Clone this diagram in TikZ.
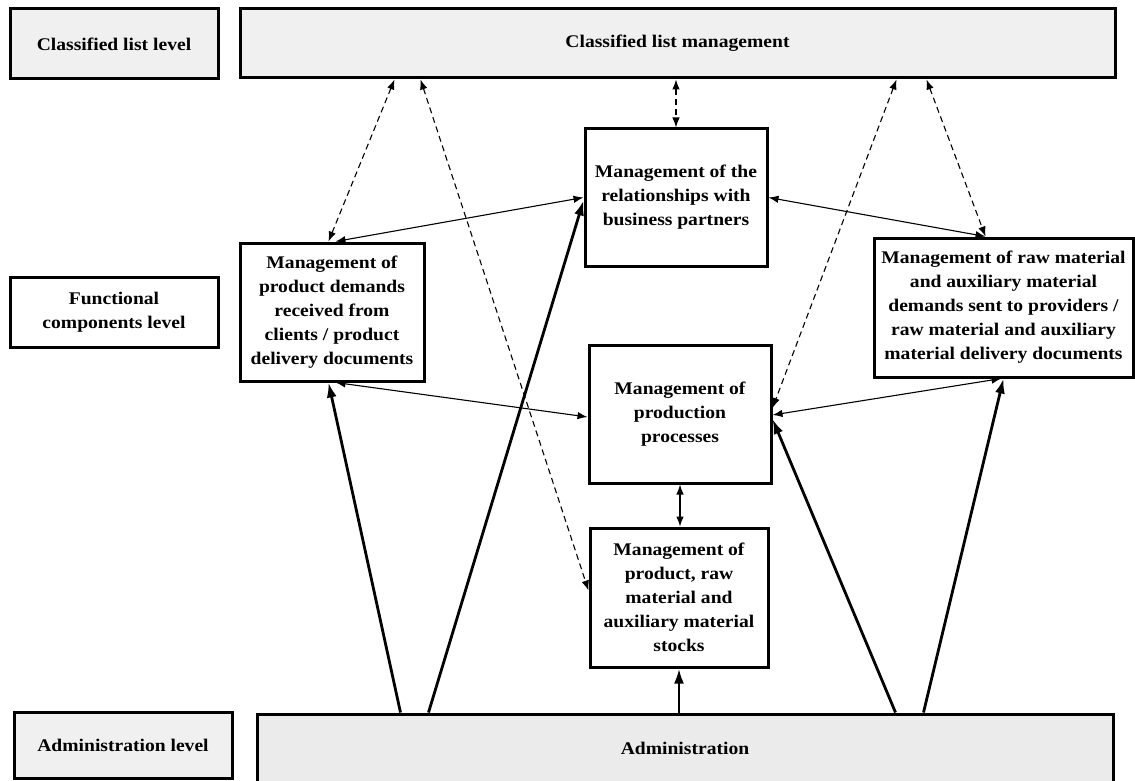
\documentclass[tikz,border=0pt]{standalone}
\usepackage{fontspec}
\setmainfont{Liberation Serif}[FakeStretch=1.1]
\usetikzlibrary{arrows.meta}
\definecolor{lightbar}{RGB}{240,240,240}
\definecolor{adminbar}{RGB}{235,235,235}
\begin{document}
\begin{tikzpicture}[x=1pt,y=-1pt,
  box/.style={draw=black, line width=3pt, fill=white, inner sep=0pt, align=center,
    font=\bfseries\fontsize{17.8}{24}\selectfont},
  greybox/.style={box, fill=lightbar},
  dashlink/.style={line width=1.1pt, dash pattern=on 6pt off 4pt, {Latex[length=10pt,width=7.5pt]}-{Latex[length=10pt,width=7.5pt]}},
  thinlink/.style={line width=1.1pt, {Latex[length=10pt,width=7.5pt]}-{Latex[length=10pt,width=7.5pt]}},
  thicklink/.style={line width=2.8pt, -{Latex[length=15pt,width=10pt]}}
]
\useasboundingbox (0,0) rectangle (1135,781);
% level labels
\node[greybox, minimum width=208pt, minimum height=70pt] (ClassLvl) at (114,44) {Classified list level};
\node[box, minimum width=208pt, minimum height=70pt] (FuncLvl) at (114,312) {Functional\\components level};
\node[greybox, minimum width=218pt, minimum height=66pt] (AdminLvl) at (123,745) {Administration level};
% bars
\node[greybox, minimum width=875pt, minimum height=69pt] (ClassMgmt) at (677.5,43.5) {Classified list management};
\node[box, fill=adminbar, minimum width=856pt, minimum height=68pt] (Admin) at (685,748) {Administration};
% functional components
\node[box, minimum width=182pt, minimum height=137pt] (Rel) at (676,197.5) {Management of the\\relationships with\\business partners};
\node[box, minimum width=184pt, minimum height=138pt] (Demand) at (332,312) {Management of\\product demands\\received from\\clients / product\\delivery documents};
\node[box, minimum width=259pt, minimum height=139pt] (Raw) at (1003.5,307.5) {Management of raw material\\and auxiliary material\\demands sent to providers /\\raw material and auxiliary\\material delivery documents};
\node[box, minimum width=182pt, minimum height=138pt] (Prod) at (680,414) {Management of\\production\\processes};
\node[box, minimum width=178pt, minimum height=139pt] (Stocks) at (679,597.5) {Management of\\product, raw\\material and\\auxiliary material\\stocks};
% dashed links to classified list management
\draw[dashlink] ([xshift=156pt]ClassMgmt.south west) -- ([xshift=90pt]Demand.north west);
\draw[dashlink] ([xshift=182pt]ClassMgmt.south west) -- ([yshift=7pt]Stocks.west);
\draw[dashlink] (Rel.north |- ClassMgmt.south) -- (Rel.north);
\draw[dashlink] ([xshift=658pt]ClassMgmt.south west) -- ([yshift=6pt]Prod.east);
\draw[dashlink] ([xshift=688pt]ClassMgmt.south west) -- ([xshift=113pt]Raw.north west);
% thin links between components
\draw[thinlink] ([xshift=97pt]Demand.north west) -- (Rel.west);
\draw[thinlink] (Rel.east) -- ([xshift=113pt]Raw.north west);
\draw[thinlink] ([xshift=97pt]Demand.south west) -- ([yshift=-3pt]Prod.west);
\draw[thinlink] ([yshift=-1pt]Prod.east) -- ([xshift=129pt]Raw.south west);
\draw[thinlink] (Prod.south) -- (Prod.south |- Stocks.north);
% thick links from administration
\draw[thicklink] ([xshift=145pt]Admin.north west) -- ([xshift=90pt]Demand.south west);
\draw[thicklink] ([xshift=173pt]Admin.north west) -- ([yshift=-3pt]Rel.west);
\draw[thicklink] (Stocks.south |- Admin.north) -- (Stocks.south);
\draw[thicklink] ([xshift=640pt]Admin.north west) -- ([yshift=-5pt]Prod.east);
\draw[thicklink] ([xshift=668pt]Admin.north west) -- ([xshift=131pt]Raw.south west);
\end{tikzpicture}
\end{document}
